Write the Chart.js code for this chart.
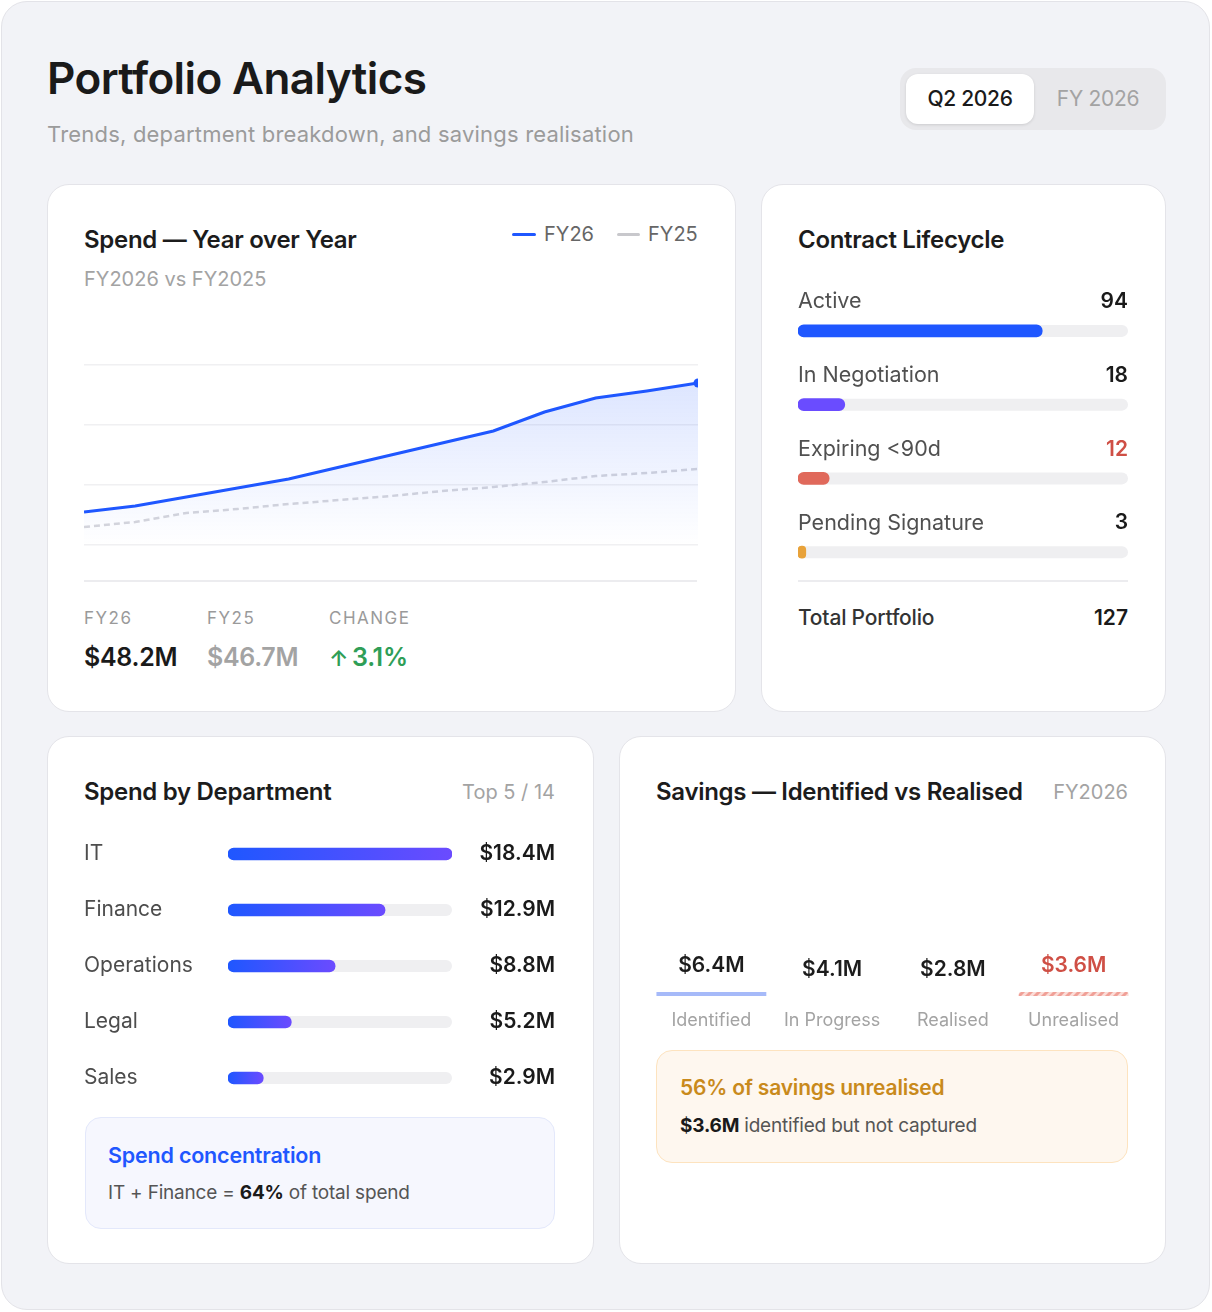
<!DOCTYPE html>
<html>
<head>
<meta charset="utf-8">
<script src="https://cdn.jsdelivr.net/npm/chart.js@4.4.1/dist/chart.umd.min.js"></script>
<style>
  body { margin: 0; background: #ffffff; font-family: Inter, "Noto Sans", sans-serif; }
  .frame { position: absolute; left: 1px; top: 1px; width: 1207px; height: 1307px; background: #f2f3f7; border: 1.5px solid #e3e3e8; border-radius: 26px; }
  .abs { position: absolute; white-space: nowrap; }
  .card { position: absolute; background: #fff; border: 1.5px solid #e4e4e9; border-radius: 22px; box-sizing: border-box; }
  .ttl { font-size: 24px; font-weight: 600; color: #1c1c1c; line-height: 30px; letter-spacing: -0.3px; }
  .muted { color: #a3a3a3; font-size: 20px; line-height: 26px; }
  .stat-l { font-size: 17px; letter-spacing: 1.5px; color: #9a9a9a; line-height: 22px; }
  .stat-v { font-size: 25px; font-weight: 600; line-height: 32px; letter-spacing: -0.3px; }
  .divider { position: absolute; height: 1.5px; background: #ececef; }
  .chartbox { position: absolute; }
</style>
</head>
<body>
<div class="frame"></div>

<div class="abs" style="left:47px;top:50px;font-size:44px;font-weight:600;color:#1a1a1a;line-height:56px;letter-spacing:-0.6px;">Portfolio Analytics</div>
<div class="abs" style="left:47px;top:120px;font-size:22px;color:#9b9b9b;line-height:28px;letter-spacing:0.2px;">Trends, department breakdown, and savings realisation</div>

<div class="abs" style="left:900px;top:68px;width:266px;height:62px;background:#e8e8eb;border-radius:16px;"></div>
<div class="abs" style="left:906px;top:74px;width:128px;height:50px;background:#fff;border-radius:12px;box-shadow:0 1px 3px rgba(0,0,0,0.12);text-align:center;line-height:50px;font-size:21px;font-weight:500;color:#1a1a1a;letter-spacing:-0.3px;">Q2 2026</div>
<div class="abs" style="left:1040px;top:74px;width:116px;height:50px;text-align:center;line-height:50px;font-size:21px;color:#a3a3a3;letter-spacing:-0.3px;">FY 2026</div>

<!-- card 1 -->
<div class="card" style="left:47px;top:184px;width:689px;height:528px;"></div>
<div class="abs ttl" style="left:84px;top:225px;">Spend — Year over Year</div>
<div class="abs muted" style="left:84px;top:266px;">FY2026 vs FY2025</div>
<div class="abs" style="left:512px;top:232.5px;width:24px;height:3.5px;background:#1f57ff;border-radius:2px;"></div>
<div class="abs" style="left:544px;top:221px;font-size:20px;color:#666;line-height:26px;">FY26</div>
<div class="abs" style="left:617px;top:232.5px;width:23px;height:3.5px;background:#c8c8cc;border-radius:2px;"></div>
<div class="abs" style="left:648px;top:221px;font-size:20px;color:#666;line-height:26px;">FY25</div>
<div class="chartbox" style="left:84px;top:360px;width:614px;height:190px;"><canvas id="trend"></canvas></div>
<div class="divider" style="left:84px;top:580px;width:613px;"></div>
<div class="abs stat-l" style="left:84px;top:607px;">FY26</div>
<div class="abs stat-l" style="left:207px;top:607px;">FY25</div>
<div class="abs stat-l" style="left:329px;top:607px;">CHANGE</div>
<div class="abs stat-v" style="left:84px;top:641px;color:#1a1a1a;">$48.2M</div>
<div class="abs stat-v" style="left:207px;top:641px;color:#a3a3a3;">$46.7M</div>
<div class="abs stat-v" style="left:329px;top:641px;color:#2f9e57;"><span style="font-size:22px;margin-right:4px;">↑</span>3.1%</div>

<!-- card 2 -->
<div class="card" style="left:761px;top:184px;width:405px;height:528px;"></div>
<div class="abs ttl" style="left:798px;top:225px;">Contract Lifecycle</div>
<div class="chartbox" style="left:798px;top:270px;width:330px;height:319px;"><canvas id="lifecycle"></canvas></div>
<div class="divider" style="left:798px;top:580px;width:330px;"></div>
<div class="abs" style="left:798px;top:604px;font-size:21px;font-weight:500;color:#333;line-height:28px;letter-spacing:-0.2px;">Total Portfolio</div>
<div class="abs" style="left:1028px;width:100px;text-align:right;top:604px;font-size:21px;font-weight:600;color:#1a1a1a;line-height:28px;">127</div>

<!-- card 3 -->
<div class="card" style="left:47px;top:736px;width:547px;height:528px;"></div>
<div class="abs ttl" style="left:84px;top:777px;">Spend by Department</div>
<div class="abs muted" style="left:355px;width:200px;text-align:right;top:779px;">Top 5 / 14</div>
<div class="chartbox" style="left:84px;top:826px;width:471px;height:280px;"><canvas id="dept"></canvas></div>
<div class="abs" style="left:85px;top:1117px;width:470px;height:112px;background:#f6f7fe;border:1.5px solid #e3e8fb;border-radius:16px;box-sizing:border-box;"></div>
<div class="abs" style="left:108px;top:1141px;font-size:21.5px;font-weight:600;color:#1f57ff;line-height:28px;letter-spacing:-0.2px;">Spend concentration</div>
<div class="abs" style="left:108px;top:1180px;font-size:19px;color:#555;line-height:26px;letter-spacing:-0.2px;">IT + Finance = <b style="color:#1a1a1a;font-weight:700;">64%</b> of total spend</div>

<!-- card 4 -->
<div class="card" style="left:619px;top:736px;width:547px;height:528px;"></div>
<div class="abs ttl" style="left:656px;top:777px;">Savings — Identified vs Realised</div>
<div class="abs muted" style="left:928px;width:200px;text-align:right;top:779px;">FY2026</div>
<div class="chartbox" style="left:651px;top:940px;width:483px;height:100px;"><canvas id="savings"></canvas></div>
<div class="abs" style="left:656px;top:1050px;width:472px;height:113px;background:#fef7ef;border:1.5px solid #fde3bf;border-radius:16px;box-sizing:border-box;"></div>
<div class="abs" style="left:680px;top:1074px;font-size:21px;font-weight:600;color:#c98a1c;line-height:28px;letter-spacing:-0.2px;">56% of savings unrealised</div>
<div class="abs" style="left:680px;top:1113px;font-size:19px;color:#555;line-height:26px;letter-spacing:-0.2px;"><b style="color:#1a1a1a;font-weight:700;">$3.6M</b> identified but not captured</div>

<script>
// weekly spend trend, Q2 (13 weeks)
var weeks = ['W1','W2','W3','W4','W5','W6','W7','W8','W9','W10','W11','W12','W13'];
var fy26 = [3.33, 3.39, 3.48, 3.57, 3.66, 3.78, 3.90, 4.02, 4.14, 4.33, 4.47, 4.54, 4.62];
var fy25 = [3.18, 3.23, 3.32, 3.36, 3.41, 3.45, 3.49, 3.54, 3.58, 3.63, 3.69, 3.72, 3.76];
var trendTicks = [3.0, 3.6, 4.2, 4.8];

// contract lifecycle
var stages = ['Active', 'In Negotiation', 'Expiring <90d', 'Pending Signature'];
var stageCounts = [94, 18, 12, 3];
var totalContracts = 127;

// spend by department ($M)
var depts = ['IT', 'Finance', 'Operations', 'Legal', 'Sales'];
var deptSpend = [18.4, 12.9, 8.8, 5.2, 2.9];

// savings ($M)
var savingsCats = ['Identified', 'In Progress', 'Realised', 'Unrealised'];
var savingsVals = [6.4, 4.1, 2.8, 3.6];

var FONT = 'Inter, "Noto Sans", sans-serif';

// gray track behind horizontal bars
var trackPlugin = {
    id: 'tracks',
    beforeDatasetsDraw: function(chart){
        var ctx = chart.ctx, a = chart.chartArea;
        var meta = chart.getDatasetMeta(0);
        ctx.save();
        ctx.fillStyle = '#efeff1';
        meta.data.forEach(function(el){
            var h = el.height;
            ctx.beginPath();
            ctx.roundRect(a.left, el.y - h/2, a.right - a.left, h, h/2);
            ctx.fill();
        });
        ctx.restore();
    }
};

function fyFill(context){
    var ch = context.chart, a = ch.chartArea;
    if(!a) return 'rgba(31,87,255,0.1)';
    var g = ch.ctx.createLinearGradient(0, a.top, 0, a.bottom);
    g.addColorStop(0, 'rgba(31,87,255,0.17)');
    g.addColorStop(1, 'rgba(31,87,255,0.0)');
    return g;
}

var chartTrend = new Chart(document.getElementById('trend'), {
    type: 'line',
    data: {
        labels: weeks,
        datasets: [{
            label: 'FY26',
            data: fy26,
            borderColor: '#1f57ff',
            borderWidth: 3,
            backgroundColor: fyFill,
            fill: 'start',
            tension: 0,
            pointRadius: fy26.map(function(v, i){ return i === fy26.length - 1 ? 4.5 : 0; }),
            pointBackgroundColor: '#1f57ff',
            pointBorderWidth: 0
        }, {
            label: 'FY25',
            data: fy25,
            borderColor: '#d6d6db',
            borderWidth: 2.5,
            borderDash: [6, 4],
            fill: false,
            tension: 0,
            pointRadius: 0
        }]
    },
    options: {
        responsive: true,
        maintainAspectRatio: false,
        animation: false,
        layout: { autoPadding: false, padding: { top: 5, bottom: 5, left: 0, right: 0 } },
        plugins: { legend: { display: false }, tooltip: { enabled: false } },
        scales: {
            x: { display: false },
            y: {
                min: trendTicks[0],
                max: trendTicks[trendTicks.length - 1],
                afterBuildTicks: function(s){ s.ticks = trendTicks.map(function(v){ return { value: v }; }); },
                afterFit: function(s){ s.width = 0; },
                ticks: { display: false },
                grid: { color: '#f0f0f2', lineWidth: 1.5, drawTicks: false },
                border: { display: false }
            }
        }
    }
});

var lifecycleLabels = {
    id: 'lifecycleLabels',
    afterDatasetsDraw: function(chart){
        var ctx = chart.ctx, a = chart.chartArea;
        var meta = chart.getDatasetMeta(0);
        ctx.save();
        ctx.textBaseline = 'middle';
        meta.data.forEach(function(el, i){
            ctx.font = '400 21.5px ' + FONT;
            ctx.fillStyle = '#505050';
            ctx.textAlign = 'left';
            ctx.fillText(stages[i], a.left, el.y - 29);
            ctx.font = '600 21px ' + FONT;
            ctx.fillStyle = i === 2 ? '#cf4f45' : '#1a1a1a';
            ctx.textAlign = 'right';
            ctx.fillText(String(stageCounts[i]), a.right, el.y - 29);
        });
        ctx.restore();
    }
};

var chartLifecycle = new Chart(document.getElementById('lifecycle'), {
    type: 'bar',
    data: {
        labels: stages,
        datasets: [{
            data: stageCounts,
            backgroundColor: ['#1f57ff', '#6a4cff', '#e0695b', '#e8a23a'],
            barThickness: 12,
            borderRadius: 6,
            borderSkipped: false
        }]
    },
    options: {
        indexAxis: 'y',
        responsive: true,
        maintainAspectRatio: false,
        animation: false,
        layout: { autoPadding: false, padding: { top: 24, bottom: 0, left: 0, right: 0 } },
        plugins: { legend: { display: false }, tooltip: { enabled: false } },
        scales: {
            x: { display: false, min: 0, max: totalContracts },
            y: { display: false }
        }
    },
    plugins: [trackPlugin, lifecycleLabels]
});

function deptFill(context){
    var ch = context.chart, a = ch.chartArea;
    if(!a || context.type !== 'data') return '#3a55ff';
    var x1 = ch.scales.x.getPixelForValue(context.raw);
    var g = ch.ctx.createLinearGradient(a.left, 0, x1, 0);
    g.addColorStop(0, '#1f57ff');
    g.addColorStop(1, '#6b4bff');
    return g;
}

// department names on the left, amounts on the right
var deptText = {
    id: 'deptText',
    afterDatasetsDraw: function(chart){
        var ctx = chart.ctx;
        var meta = chart.getDatasetMeta(0);
        ctx.save();
        ctx.textBaseline = 'middle';
        meta.data.forEach(function(el, i){
            ctx.font = '400 21px ' + FONT;
            ctx.fillStyle = '#4d4d4d';
            ctx.textAlign = 'left';
            ctx.fillText(depts[i], 0, el.y);
            ctx.font = '600 21px ' + FONT;
            ctx.fillStyle = '#1a1a1a';
            ctx.textAlign = 'right';
            ctx.fillText('$' + deptSpend[i].toFixed(1) + 'M', chart.width, el.y);
        });
        ctx.restore();
    }
};

var chartDept = new Chart(document.getElementById('dept'), {
    type: 'bar',
    data: {
        labels: depts,
        datasets: [{
            data: deptSpend,
            backgroundColor: deptFill,
            barThickness: 12,
            borderRadius: 6,
            borderSkipped: false
        }]
    },
    options: {
        indexAxis: 'y',
        responsive: true,
        maintainAspectRatio: false,
        animation: false,
        layout: { autoPadding: false, padding: { top: 0, bottom: 0, left: 144, right: 103 } },
        plugins: { legend: { display: false }, tooltip: { enabled: false } },
        scales: {
            x: { display: false, min: 0, max: deptSpend[0] },
            y: { display: false }
        }
    },
    plugins: [trackPlugin, deptText]
});

// hatched fill for the unrealised bar
function hatch(){
    var c = document.createElement('canvas');
    c.width = 8; c.height = 8;
    var x = c.getContext('2d');
    x.fillStyle = '#fbdcd7';
    x.fillRect(0, 0, 8, 8);
    x.strokeStyle = '#f0a097';
    x.lineWidth = 3;
    x.beginPath();
    x.moveTo(-2, 10); x.lineTo(10, -2);
    x.moveTo(6, 10); x.lineTo(10, 6);
    x.moveTo(-2, 2); x.lineTo(2, -2);
    x.stroke();
    return x.createPattern(c, 'repeat');
}

var savingsValues = {
    id: 'savingsValues',
    afterDatasetsDraw: function(chart){
        var ctx = chart.ctx, a = chart.chartArea;
        var meta = chart.getDatasetMeta(0);
        ctx.save();
        ctx.font = '600 21px ' + FONT;
        ctx.textAlign = 'center';
        ctx.textBaseline = 'middle';
        meta.data.forEach(function(el, i){
            var top = Math.max(el.y, a.top);
            if (i === 1 || i === 2) top = a.bottom;
            ctx.fillStyle = i === 3 ? '#cf4f45' : '#1c1c1c';
            ctx.fillText('$' + savingsVals[i].toFixed(1) + 'M', el.x, top - 26);
        });
        ctx.restore();
    }
};

var chartSavings = new Chart(document.getElementById('savings'), {
    type: 'bar',
    data: {
        labels: savingsCats,
        datasets: [{
            data: savingsVals,
            backgroundColor: ['#a6baf9', 'rgba(255,255,255,0)', 'rgba(255,255,255,0)', hatch()],
            barPercentage: 0.91,
            categoryPercentage: 1,
            borderRadius: { topLeft: 3, topRight: 3 },
            borderSkipped: 'bottom'
        }]
    },
    options: {
        responsive: true,
        maintainAspectRatio: false,
        animation: false,
        layout: { autoPadding: false, padding: { top: 52, bottom: 0, left: 0, right: 0 } },
        plugins: { legend: { display: false }, tooltip: { enabled: false } },
        scales: {
            x: {
                afterFit: function(s){ s.height = 44; },
                ticks: { padding: 14, color: '#a3a3a3', font: { family: FONT, size: 18 } },
                grid: { display: false, drawTicks: false },
                border: { display: false }
            },
            y: { display: false, min: 0, max: savingsVals[3] }
        }
    },
    plugins: [savingsValues]
});
</script>
</body>
</html>
